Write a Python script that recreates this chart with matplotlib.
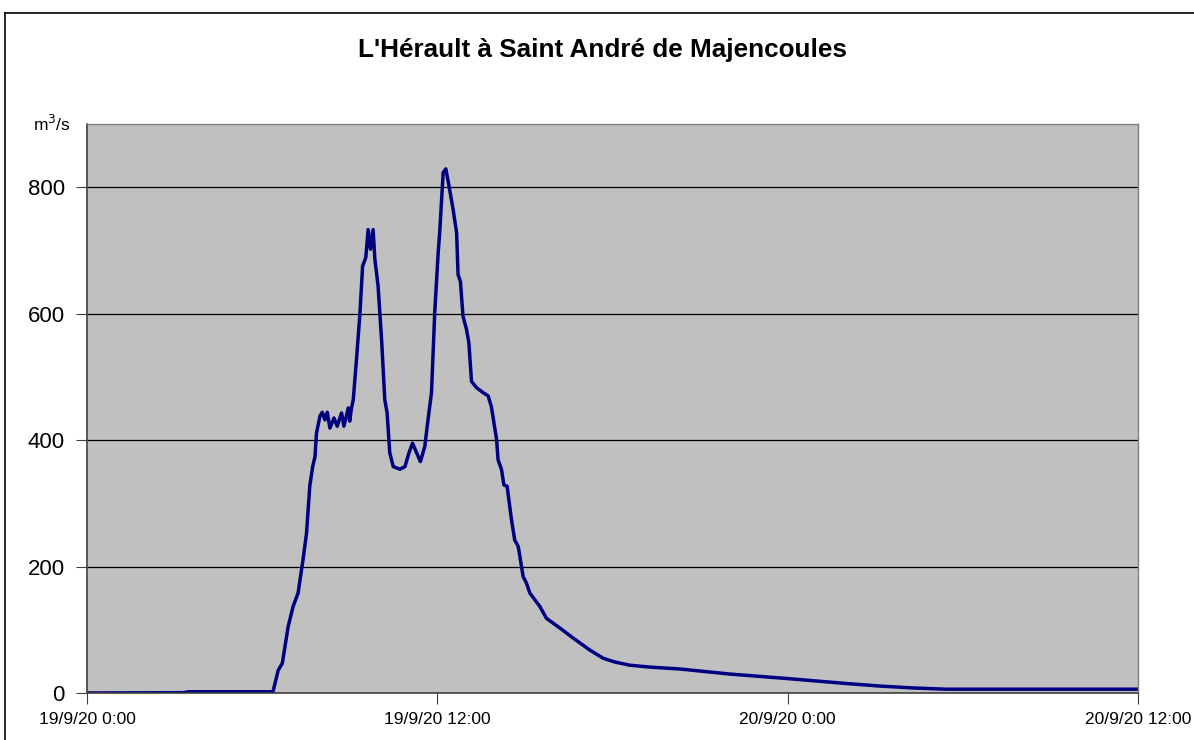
import numpy as np
import matplotlib
matplotlib.use("Agg")
import matplotlib.pyplot as plt
from matplotlib.lines import Line2D

plt.rcParams['font.family'] = ['Liberation Sans', 'DejaVu Sans']

# hours since 19/9/20 0:00 and discharge (m3/s)
hours = [0.0, 3.29, 3.5, 6.37, 6.55, 6.69, 6.89, 7.06, 7.23, 7.40, 7.52, 7.63,
         7.73, 7.81, 7.86, 7.98, 8.06, 8.15, 8.23, 8.32, 8.46, 8.57, 8.72, 8.80,
         8.95, 9.00, 9.06, 9.12, 9.23, 9.35, 9.44, 9.55, 9.63, 9.71, 9.80, 9.86,
         9.97, 10.09, 10.20, 10.28, 10.37, 10.49, 10.72, 10.89, 11.03, 11.15,
         11.29, 11.42, 11.57, 11.68, 11.80, 11.91, 12.03, 12.08, 12.20, 12.29,
         12.40, 12.54, 12.66, 12.71, 12.79, 12.88, 13.00, 13.08, 13.17, 13.34,
         13.57, 13.74, 13.85, 14.03, 14.08, 14.20, 14.28, 14.39, 14.54, 14.65,
         14.77, 14.94, 15.05, 15.17, 15.51, 15.74, 16.19, 16.65, 17.22, 17.68,
         18.08, 18.59, 19.27, 20.30, 22.01, 23.95, 26.01, 27.15, 28.29, 29.43,
         30.9, 36.0]
flow = [0, 0.5, 2, 2, 36, 47, 105, 137, 158, 211, 253, 327,
        358, 374, 411, 438, 444, 432, 444, 419, 435, 422, 443, 422,
        451, 430, 451, 464, 527, 601, 675, 689, 733, 702, 733, 686,
        644, 559, 464, 443, 380, 358, 354, 358, 380, 395,
        380, 366, 390, 432, 475, 601, 697, 728, 823, 829,
        802, 765, 728, 662, 651, 596, 575, 554, 493, 483,
        475, 470, 453, 401, 369, 353, 329, 327, 274, 242,
        232, 184, 174, 158, 137, 118, 103, 87, 68, 55,
        49, 44, 41, 38, 30, 23, 15, 11, 8, 6,
        6, 6]

xticks = [0, 12, 24, 36]
xlabels = ['19/9/20 0:00', '19/9/20 12:00', '20/9/20 0:00', '20/9/20 12:00']
yticks = [0, 200, 400, 600, 800]

fig = plt.figure(figsize=(11.94, 7.40), dpi=100)
ax = fig.add_axes([87/1194, 47/740, (1138-87)/1194, (693-124)/740])
ax.set_facecolor('#c0c0c0')

ax.plot(hours, flow, color='#000080', lw=2.5, solid_joinstyle='round')

ax.set_xlim(0, 36)
ax.set_ylim(0, 900)
ax.set_yticks(yticks)
ax.set_xticks(xticks)
ax.set_xticklabels(xlabels, fontsize=12.5)
ax.tick_params(axis='y', labelsize=16, length=8, color='#404040', pad=8)
ax.tick_params(axis='x', length=8, color='#404040', pad=6)
ax.yaxis.grid(True, color='black', lw=0.9)
ax.set_axisbelow(True)
for s in ['left', 'bottom']:
    ax.spines[s].set_color('#404040')
    ax.spines[s].set_linewidth(1.2)
for s in ['top', 'right']:
    ax.spines[s].set_color('#808080')
    ax.spines[s].set_linewidth(1.0)

fig.text(603/1194, 1 - 50/740, "L'Hérault à Saint André de Majencoules",
         ha='center', va='center', fontsize=18.8, fontweight='bold')
fig.text(52/1194, 1 - 124/740, 'm$^3$/s', ha='center', va='center', fontsize=12.5)

# outer frame (top and left border of the picture)
fig.add_artist(Line2D([5/1194, 1], [1 - 13/740, 1 - 13/740], color='black', lw=1.2))
fig.add_artist(Line2D([5/1194, 5/1194], [0, 1 - 13/740], color='black', lw=1.2))

fig.savefig('out.png', dpi=100)
